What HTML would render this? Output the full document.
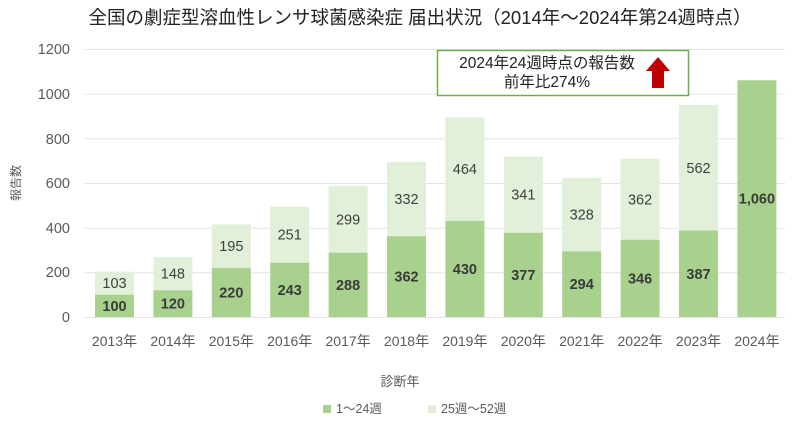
<!DOCTYPE html>
<html><head><meta charset="utf-8"><style>
body{margin:0;background:#fff;}
svg text{font-family:"Liberation Sans","Noto Sans CJK JP",sans-serif;}
</style></head><body>
<svg width="800" height="433" viewBox="0 0 800 433" xmlns="http://www.w3.org/2000/svg">
<rect width="800" height="433" fill="#fff"/>
<text x="420" y="24" font-size="18.5" text-anchor="middle" fill="#222">全国の劇症型溶血性レンサ球菌感染症 届出状況（2014年～2024年第24週時点）</text>
<g stroke="#e3e3e3" stroke-width="1">
<line x1="85" x2="785" y1="49.5" y2="49.5"/>
<line x1="85" x2="785" y1="94.2" y2="94.2"/>
<line x1="85" x2="785" y1="138.8" y2="138.8"/>
<line x1="85" x2="785" y1="183.5" y2="183.5"/>
<line x1="85" x2="785" y1="228.2" y2="228.2"/>
<line x1="85" x2="785" y1="272.8" y2="272.8"/>
<line x1="85" x2="785" y1="317.5" y2="317.5"/>
</g>
<g font-size="14.5" fill="#595959" text-anchor="end">
<text x="70" y="54">1200</text><text x="70" y="99">1000</text><text x="70" y="144">800</text>
<text x="70" y="188">600</text><text x="70" y="233">400</text><text x="70" y="277">200</text><text x="70" y="322">0</text>
</g>
<text transform="translate(20,183) rotate(-90)" font-size="12" fill="#595959" text-anchor="middle">報告数</text>
<g id="bars"></g>
<rect x="437.5" y="50.5" width="251" height="45" fill="#fff" stroke="#70ad47" stroke-width="1.5"/>
<text x="547" y="68" font-size="15.5" fill="#222" text-anchor="middle">2024年24週時点の報告数</text>
<text x="547" y="87" font-size="15.5" fill="#222" text-anchor="middle">前年比274%</text>
<polygon points="658,57 670,71 664,71 664,88 652,88 652,71 646,71" fill="#c00000"/>
<text x="400" y="386" font-size="13" fill="#595959" text-anchor="middle">診断年</text>
<rect x="323" y="405" width="8" height="8" fill="#a9d18e"/>
<text x="336" y="413" font-size="12.5" fill="#595959">1～24週</text>
<rect x="428" y="405" width="8" height="8" fill="#e2efd9"/>
<text x="441" y="413" font-size="12.5" fill="#595959">25週～52週</text>
</svg>
<script>
const d=[[2013,100,103],[2014,120,148],[2015,220,195],[2016,243,251],[2017,288,299],[2018,362,332],[2019,430,464],[2020,377,341],[2021,294,328],[2022,346,362],[2023,387,562],[2024,1060,0]];
const s=268/1200,b=317;let h='';
d.forEach((r,i)=>{const c=114.5+i*58.4,x=c-19.5;
const y1=b-r[1]*s,y2=y1-r[2]*s;
if(r[2])h+=`<rect x="${x}" y="${y2}" width="39" height="${r[2]*s}" fill="#e2efd9"/>`;
h+=`<rect x="${x}" y="${y1}" width="39" height="${r[1]*s}" fill="#a9d18e"/>`;
h+=`<text x="${c}" y="${(y1+b)/2+5}" font-size="14.5" font-weight="bold" fill="#3a3a3a" text-anchor="middle">${r[1]>=1000?'1,060':r[1]}</text>`;
if(r[2])h+=`<text x="${c}" y="${(y1+y2)/2+5}" font-size="14.5" fill="#404040" text-anchor="middle">${r[2]}</text>`;
h+=`<text x="${c}" y="346" font-size="14" fill="#595959" text-anchor="middle">${r[0]}年</text>`;});
document.getElementById('bars').innerHTML=h;
</script>
</body></html>
